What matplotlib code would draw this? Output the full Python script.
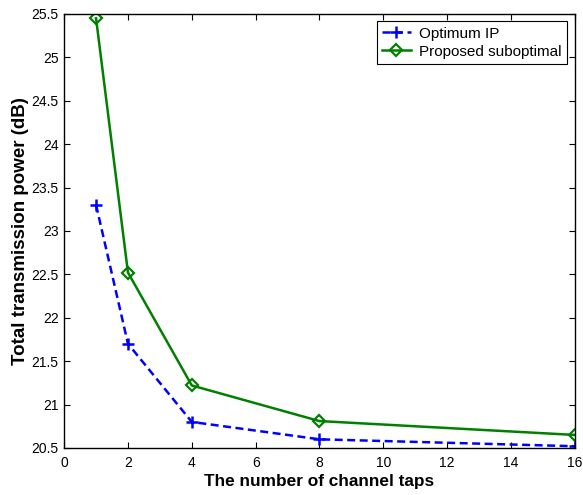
import matplotlib
matplotlib.use("Agg")
import matplotlib.pyplot as plt

taps = [1, 2, 4, 8, 16]
optimum_ip = [23.3, 21.7, 20.8, 20.6, 20.52]
proposed = [25.45, 22.52, 21.22, 20.81, 20.65]
xticks = [0, 2, 4, 6, 8, 10, 12, 14, 16]
yticks = [20.5, 21, 21.5, 22, 22.5, 23, 23.5, 24, 24.5, 25, 25.5]

plt.rcParams['font.family'] = ['Liberation Sans', 'DejaVu Sans']

fig = plt.figure(figsize=(5.83, 4.95), dpi=100)
ax = fig.add_axes([0.110, 0.095, 0.876, 0.877])

ax.plot(taps, optimum_ip, color='#0000ff', linestyle='--', linewidth=1.8,
        marker='+', markersize=8, markeredgewidth=1.8, label='Optimum IP',
        dashes=(3.2, 1.8))
ax.plot(taps, proposed, color='#008000', linestyle='-', linewidth=1.8,
        marker='D', markersize=6, markerfacecolor='none', markeredgewidth=1.6,
        label='Proposed suboptimal')

ax.set_xlim(0, 16)
ax.set_ylim(20.5, 25.5)
ax.set_xticks(xticks)
ax.set_xticklabels([str(t) for t in xticks])
ax.set_yticks(yticks)
ax.set_yticklabels([('%g' % t) for t in yticks])
ax.tick_params(direction='in', top=True, right=True, labelsize=10, length=4, width=0.8)
ax.tick_params(axis='x', pad=6)
ax.tick_params(axis='y', pad=4)
for s in ax.spines.values():
    s.set_linewidth(1.0)

ax.set_xlabel('The number of channel taps', fontsize=12.4, fontweight='bold', labelpad=3)
ax.set_ylabel('Total transmission power (dB)', fontsize=13.5, fontweight='bold', labelpad=2)

leg = ax.legend(loc='upper right', fontsize=11, fancybox=False, framealpha=1,
                edgecolor='black', borderaxespad=0.5, handlelength=1.9,
                handletextpad=0.55, borderpad=0.35, labelspacing=0.25)
leg.get_frame().set_linewidth(0.8)

fig.savefig('out.png', dpi=100)
